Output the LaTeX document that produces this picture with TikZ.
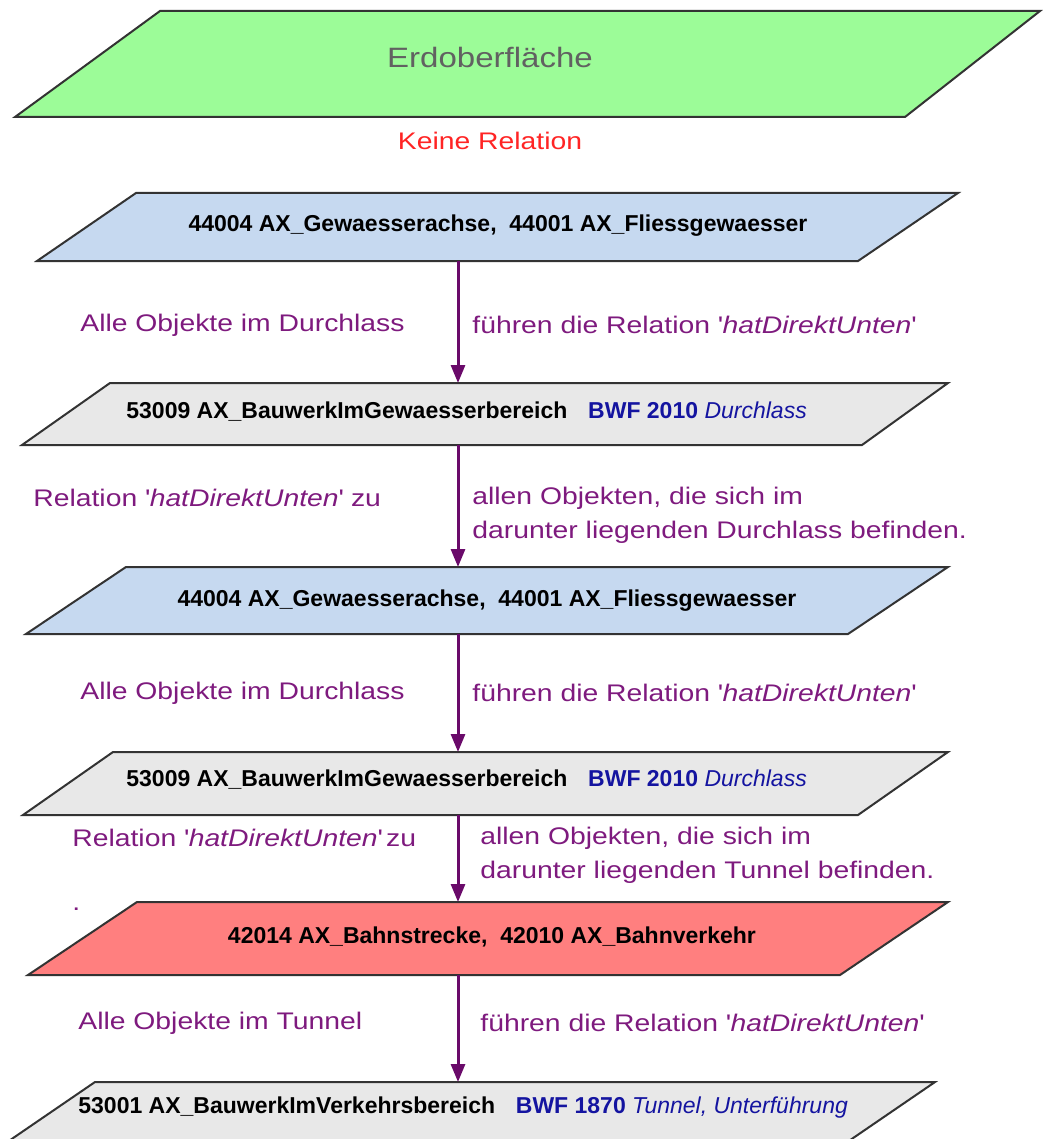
\documentclass[tikz,border=0pt]{standalone}
\usepackage{fontspec}
\setmainfont{Liberation Sans}
\newfontfamily\relfont{Liberation Sans}[FakeStretch=1.18]
\usetikzlibrary{arrows.meta}

\definecolor{surfgreen}{HTML}{9CFC98}
\definecolor{waterblue}{HTML}{C6D9F0}
\definecolor{bwgrey}{HTML}{E8E8E8}
\definecolor{railred}{HTML}{FF7F7F}
\definecolor{relpurple}{HTML}{7E1A7E}
\definecolor{linkpurple}{HTML}{6A0A6A}
\definecolor{bwfblue}{HTML}{1414A0}
\definecolor{norel}{HTML}{FF2424}

\newcommand{\sq}{\textquotesingle}
\newcommand{\hdu}{\sq\textit{hatDirektUnten}\sq}

\begin{document}
\begin{tikzpicture}[
		x=0.5pt, y=-0.5pt,
		>={Triangle[width=7pt,length=9pt]},
		layer/.style={draw=black!80, line width=1pt, line join=miter},
		obj/.style={font=\bfseries\fontsize{11.5}{13}\selectfont, inner sep=0},
		rel/.style={font=\relfont\fontsize{12}{17}\selectfont, text=relpurple,
			inner sep=0, anchor=west, align=left},
		link/.style={->, draw=linkpurple, fill=linkpurple, line width=1.5pt}
	]
		\useasboundingbox (0,0) rectangle (1043,1139);
		\clip (0,0) rectangle (1043,1139);

		% Layers
		\draw[layer, fill=surfgreen] (160,11) -- (1040,11) -- (905,117) -- (15,117) -- cycle;
		\draw[layer, fill=waterblue] (136,193) -- (958,193) -- (858,261) -- (37,261) -- cycle;
		\draw[layer, fill=bwgrey] (110,383) -- (948,383) -- (862,445) -- (22,445) -- cycle;
		\draw[layer, fill=waterblue] (126,567) -- (948,567) -- (848,634) -- (26,634) -- cycle;
		\draw[layer, fill=bwgrey] (113,752) -- (948,752) -- (858,815) -- (23,815) -- cycle;
		\draw[layer, fill=railred] (137,902) -- (948,902) -- (840,975) -- (28,975) -- cycle;
		\draw[layer, fill=bwgrey] (95,1082) -- (935,1082) -- (821,1160) -- (-19,1160) -- cycle;

		% Layer texts
		\node[font=\relfont\fontsize{14}{16}\selectfont, text=black!62] (surf) at (490,57) {Erdoberfläche};
		\node[font=\relfont\fontsize{12}{14}\selectfont, text=norel] (none) at (490,141) {Keine Relation};
		\node[obj] (water1) at (498,226) {44004 AX\_Gewaesserachse,\ \ 44001 AX\_Fliessgewaesser};
		\node[obj, anchor=west] (culv1) at (126,412) {53009 AX\_BauwerkImGewaesserbereich\hspace{0.9em}\textcolor{bwfblue}{BWF 2010 \mdseries\itshape Durchlass}};
		\node[obj] (water2) at (487,601) {44004 AX\_Gewaesserachse,\ \ 44001 AX\_Fliessgewaesser};
		\node[obj, anchor=west] (culv2) at (126,780) {53009 AX\_BauwerkImGewaesserbereich\hspace{0.9em}\textcolor{bwfblue}{BWF 2010 \mdseries\itshape Durchlass}};
		\node[obj] (rail) at (492,937) {42014 AX\_Bahnstrecke,\ \ 42010 AX\_Bahnverkehr};
		\node[obj, anchor=west] (tunnel) at (78,1108) {53001 AX\_BauwerkImVerkehrsbereich\hspace{0.9em}\textcolor{bwfblue}{BWF 1870 \mdseries\itshape Tunnel, Unterführung}};

		% Relation texts
		\node[rel] (r1l) at (80,325) {Alle Objekte im Durchlass};
		\node[rel] (r1r) at (472,325) {führen die Relation \hdu};
		\node[rel] (r2l) at (33,498) {Relation \hdu{} zu};
		\node[rel] (r2r) at (472,515) {allen Objekten, die sich im\\darunter liegenden Durchlass befinden.};
		\node[rel] (r3l) at (80,693) {Alle Objekte im Durchlass};
		\node[rel] (r3r) at (472,693) {führen die Relation \hdu};
		\node[rel] (r4l) at (72,838) {Relation \hdu\,zu};
		\node[rel] (r4r) at (480,855) {allen Objekten, die sich im\\darunter liegenden Tunnel befinden.};
		\node[rel] (dot) at (72,909) {.};
		\node[rel] (r5l) at (78,1023) {Alle Objekte im Tunnel};
		\node[rel] (r5r) at (480,1023) {führen die Relation \hdu};

		% Layer edges
		\coordinate (water1-s) at (458,261);
		\coordinate (culv1-n) at (458,383);
		\coordinate (culv1-s) at (458,445);
		\coordinate (water2-n) at (458,567);
		\coordinate (water2-s) at (458,634);
		\coordinate (culv2-n) at (458,752);
		\coordinate (culv2-s) at (458,815);
		\coordinate (rail-n) at (458,902);
		\coordinate (rail-s) at (458,975);
		\coordinate (tunnel-n) at (458,1082);

		% Relations
		\draw[link] (water1-s) -- (culv1-n);
		\draw[link] (culv1-s) -- (water2-n);
		\draw[link] (water2-s) -- (culv2-n);
		\draw[link] (culv2-s) -- (rail-n);
		\draw[link] (rail-s) -- (tunnel-n);
	\end{tikzpicture}
\end{document}
